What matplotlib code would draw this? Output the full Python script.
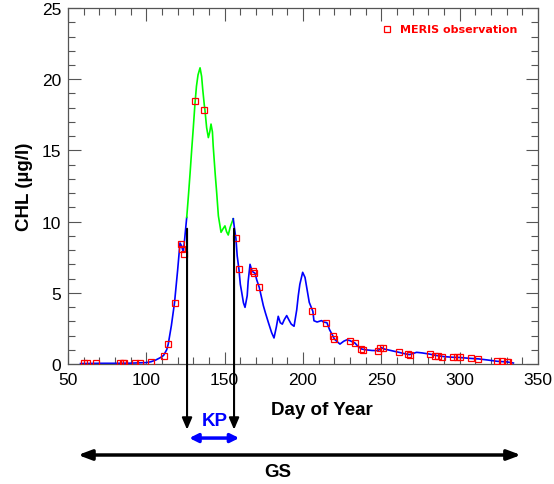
import matplotlib
matplotlib.use("Agg")
import matplotlib.pyplot as plt
from matplotlib.ticker import MultipleLocator

plt.rcParams['font.family'] = ['Liberation Sans', 'DejaVu Sans']

# modelled CHL curve (day of year, ug/l)
curve_day = [58, 70, 80, 90, 100, 103, 106, 109, 111, 113, 114, 116, 118, 120,
             121.5, 122.5, 123.6, 124.5, 125.8,
             127, 128, 129, 130, 131, 132, 133, 134.3, 135.3, 136, 137, 137.4,
             138.5, 139.6, 140.5, 141.3, 142.2, 142.7, 144, 144.9, 146, 147.7,
             149, 150.2, 151.2, 152.3, 153.5, 155.5,
             156.3, 157.2, 158, 159.1, 160, 160.9, 162, 163, 164.4, 165, 166.2,
             167, 167.7, 169.4, 170.5, 172.1, 174.7, 176, 177.9, 180, 181.5,
             183, 184.2, 185.5, 186.8, 188, 189.6, 191, 192.5, 194.3, 196, 197,
             198, 199.8, 201.3, 202.5, 204, 206.3, 207, 209, 211.9, 213, 215.3,
             217, 219, 220, 221.5, 223.6, 226, 228, 230, 233.2, 235, 237.5,
             240, 244, 248, 250, 252, 256, 261.3, 265, 268, 272.5, 276, 280.6,
             285, 290, 296, 300, 306, 312, 318, 324, 330, 334.3]
curve_chl = [0.03, 0.05, 0.05, 0.06, 0.1, 0.16, 0.28, 0.45, 0.6, 1.0, 1.4, 2.7, 4.3, 6.6,
             8.5, 8.3, 7.85, 8.8, 10.3,
             12.0, 13.5, 15.1, 16.6, 18.2, 19.5, 20.3, 20.8, 20.2, 19.3, 18.2, 17.86,
             16.6, 15.9, 16.3, 16.85, 16.3, 15.3, 13.3, 12.06, 10.4, 9.25,
             9.5, 9.7, 9.3, 9.06, 9.6, 10.2,
             9.5, 8.82, 7.6, 6.67, 5.6, 5.03, 4.3, 3.98, 4.8, 5.8, 7.0,
             6.7, 6.5, 6.37, 5.9, 5.38, 4.1, 3.6, 2.92, 2.2, 1.83,
             2.6, 3.35, 2.9, 2.8, 3.1, 3.4, 3.1, 2.8, 2.65, 3.8, 4.8,
             5.6, 6.44, 6.08, 5.3, 4.33, 3.7, 3.04, 2.95, 3.05, 2.95, 2.9,
             2.4, 1.99, 1.76, 1.6, 1.4, 1.6, 1.7, 1.64, 1.47, 1.25, 1.05,
             1.0, 0.95, 0.94, 1.15, 1.05, 0.95, 0.82, 0.72, 0.66, 0.82, 0.78, 0.7,
             0.6, 0.52, 0.47, 0.46, 0.4, 0.36, 0.28, 0.19, 0.15, 0.07]

# MERIS observations
obs_day = [60, 62, 68, 83, 85, 86, 93, 96, 103, 111, 114, 118, 122, 123, 124,
           131, 137, 157, 159, 168, 169, 172, 206, 215, 219, 220, 230, 233, 237,
           238, 248, 249, 251, 261, 267, 268, 281, 284, 286, 289, 296, 298, 300,
           307, 312, 324, 327, 330, 331]
obs_chl = [0.1, 0.1, 0.1, 0.1, 0.1, 0.1, 0.1, 0.1, 0.16, 0.58, 1.4, 4.28, 8.43, 8.07, 7.72,
           18.45, 17.86, 8.82, 6.67, 6.5, 6.37, 5.38, 3.7, 2.9, 1.99, 1.76, 1.64, 1.47, 1.05,
           0.98, 0.94, 1.1, 1.1, 0.82, 0.68, 0.63, 0.7, 0.58, 0.58, 0.52, 0.47, 0.47, 0.47,
           0.4, 0.38, 0.19, 0.19, 0.16, 0.16]

kp_bounds = [125.8, 155.5]   # green part of the curve
kp_lines = [126, 156]        # vertical markers
kp_arrow = [127.4, 159.3]
gs_arrow = [56.4, 339.1]

fig = plt.figure(figsize=(5.54, 4.85), dpi=100)
ax = fig.add_axes([0.1227, 0.2474, 0.8484, 0.734])

pre = [(d, c) for d, c in zip(curve_day, curve_chl) if d <= kp_bounds[0]]
mid = [(d, c) for d, c in zip(curve_day, curve_chl) if kp_bounds[0] <= d <= kp_bounds[1]]
post = [(d, c) for d, c in zip(curve_day, curve_chl) if d >= kp_bounds[1]]
for seg, col in [(pre, '#0000ff'), (mid, '#00ff00'), (post, '#0000ff')]:
    ax.plot([p[0] for p in seg], [p[1] for p in seg], color=col, lw=1.2, zorder=2)

ax.plot(obs_day, obs_chl, 's', ms=5, mfc='none', mec='#ff0000', mew=0.9, zorder=3)

ax.set_xlim(50, 350)
ax.set_ylim(0, 25)
ax.xaxis.set_major_locator(MultipleLocator(50))
ax.xaxis.set_minor_locator(MultipleLocator(10))
ax.yaxis.set_major_locator(MultipleLocator(5))
ax.yaxis.set_minor_locator(MultipleLocator(1))
ax.tick_params(which='both', direction='in', top=True, right=True, color='#555555',
               labelsize=12.5, width=0.8)
ax.tick_params(which='major', length=9)
ax.tick_params(which='minor', length=5)
ax.tick_params(axis='x', pad=6)
ax.tick_params(axis='y', pad=5)
for s in ax.spines.values():
    s.set_color('#555555')
    s.set_linewidth(0.9)

ax.set_ylabel("CHL (µg/l)", fontsize=13.5, fontweight='bold', labelpad=6)
ax.text(212, -3.16, "Day of Year", fontsize=13.5, fontweight='bold',
        ha='center', va='center')

# legend
ax.plot([0.679], [0.941], 's', ms=5, mfc='none', mec='#ff0000', mew=0.9,
        transform=ax.transAxes)
ax.text(0.706, 0.941, "MERIS observation", transform=ax.transAxes, color='#ff0000',
        fontsize=8, fontweight='bold', family='DejaVu Sans', va='center')

# key period markers
for d in kp_lines:
    ax.annotate('', xy=(d, -4.61), xytext=(d, 9.5), annotation_clip=False,
                arrowprops=dict(arrowstyle='-|>,head_length=0.7,head_width=0.3',
                                color='black', lw=1.5, shrinkA=0, shrinkB=0))
ax.annotate('', xy=(kp_arrow[0], -5.2), xytext=(kp_arrow[1], -5.2), annotation_clip=False,
            arrowprops=dict(arrowstyle='<|-|>,head_length=0.5,head_width=0.25',
                            color='#0000ff', lw=2.5, shrinkA=0, shrinkB=0))
ax.text(143.4, -3.98, "KP", color='#0000ff', fontsize=13.5, fontweight='bold',
        ha='center', va='center')

ax.annotate('', xy=(gs_arrow[0], -6.39), xytext=(gs_arrow[1], -6.39), annotation_clip=False,
            arrowprops=dict(arrowstyle='<|-|>,head_length=0.8,head_width=0.3',
                            color='black', lw=2.5, shrinkA=0, shrinkB=0))
ax.text(184, -7.56, "GS", fontsize=13.5, fontweight='bold', ha='center', va='center')

fig.savefig("out.png", dpi=100)
plt.close(fig)
